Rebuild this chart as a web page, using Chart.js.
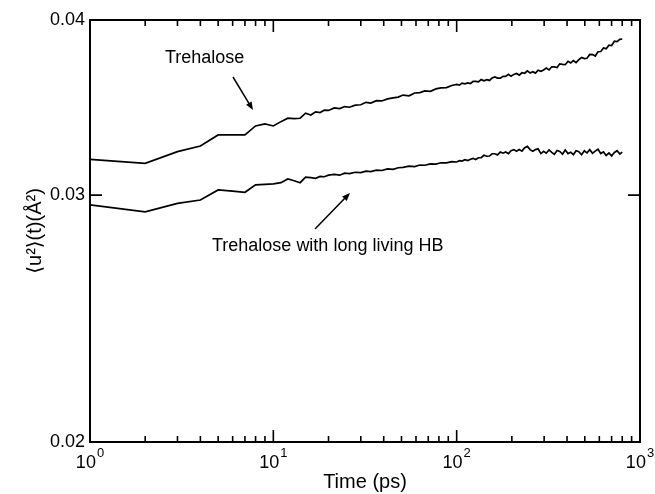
<!DOCTYPE html>
<html>
<head>
<meta charset="utf-8">
<script src="https://cdn.jsdelivr.net/npm/chart.js@4.4.0/dist/chart.umd.min.js"></script>
<style>
  html, body { margin: 0; padding: 0; background: #fff; }
</style>
</head>
<body>
<canvas id="msd-chart" width="655" height="494"></canvas>
<script>
// time (ps) - integer steps early on, denser log steps later
const times = [
  1, 2, 3, 4, 5, 6, 7, 8, 9, 10, 11, 12, 13, 14, 15, 16, 17, 18, 19, 20,
  21.5, 23, 24.5, 26, 28, 30, 32, 34, 36.5, 39, 42, 45, 48, 51, 55, 59, 63, 67, 72, 77, 82, 88, 94,
  100, 103.5, 107, 111, 115, 119, 123, 127, 131.5, 136,
  141, 146, 151, 156, 161.5, 167, 173, 179, 185, 191.5,
  198, 205, 212, 219.5, 227, 235, 243, 251.5, 260, 269,
  278, 288, 298, 308, 319, 330, 341, 353, 365, 378,
  391, 405, 419, 433, 448, 464, 480, 497, 514, 532,
  551, 570, 590, 611, 632, 654, 677, 700, 725, 750,
  776, 800
];

const trehalose = [
  0.03182, 0.03161, 0.03222, 0.03252, 0.03312, 0.03312, 0.03312, 0.03361, 0.03372, 0.03361,
  0.03385, 0.03404, 0.03402, 0.03404, 0.03432, 0.03422, 0.03440, 0.03436, 0.03450, 0.03448,
  0.03462, 0.03458, 0.03470, 0.03466, 0.03478, 0.03480, 0.03494, 0.03490, 0.03504, 0.03502,
  0.03514, 0.03520, 0.03524, 0.03536, 0.03532, 0.03548, 0.03550, 0.03560, 0.03558, 0.03572,
  0.03578, 0.03580, 0.03592,
  0.03598, 0.03594, 0.03606, 0.03602, 0.03607, 0.03604, 0.03617, 0.03616, 0.03613, 0.03627,
  0.03620, 0.03627, 0.03622, 0.03636, 0.03643, 0.03636, 0.03636, 0.03647, 0.03646, 0.03659,
  0.03647, 0.03658, 0.03664, 0.03654, 0.03668, 0.03665, 0.03679, 0.03667, 0.03674, 0.03666,
  0.03683, 0.03677, 0.03685, 0.03696, 0.03685, 0.03704, 0.03704, 0.03700, 0.03722, 0.03719,
  0.03717, 0.03738, 0.03728, 0.03742, 0.03730, 0.03748, 0.03761, 0.03754, 0.03756, 0.03780,
  0.03779, 0.03770, 0.03797, 0.03798, 0.03821, 0.03816, 0.03838, 0.03836, 0.03863, 0.03860,
  0.03875, 0.03877
];

const trehaloseHB = [
  0.02952, 0.02919, 0.02960, 0.02976, 0.03026, 0.03020, 0.03014, 0.03051, 0.03054, 0.03056,
  0.03062, 0.03081, 0.03072, 0.03062, 0.03090, 0.03088, 0.03084, 0.03094, 0.03092, 0.03100,
  0.03104, 0.03100, 0.03110, 0.03108, 0.03115, 0.03113, 0.03121, 0.03118, 0.03126, 0.03124,
  0.03132, 0.03130, 0.03138, 0.03140, 0.03146, 0.03144, 0.03152, 0.03151, 0.03158, 0.03157,
  0.03164, 0.03163, 0.03170,
  0.03168, 0.03175, 0.03173, 0.03180, 0.03175, 0.03182, 0.03187, 0.03181, 0.03190, 0.03190,
  0.03203, 0.03198, 0.03199, 0.03211, 0.03211, 0.03205, 0.03220, 0.03214, 0.03220, 0.03212,
  0.03227, 0.03233, 0.03224, 0.03233, 0.03225, 0.03243, 0.03250, 0.03233, 0.03224, 0.03233,
  0.03237, 0.03212, 0.03224, 0.03214, 0.03231, 0.03218, 0.03208, 0.03228, 0.03223, 0.03209,
  0.03231, 0.03212, 0.03219, 0.03206, 0.03227, 0.03222, 0.03206, 0.03227, 0.03216, 0.03233,
  0.03214, 0.03225, 0.03235, 0.03212, 0.03221, 0.03202, 0.03215, 0.03200, 0.03218, 0.03227,
  0.03210, 0.03220
];

const yTicks = [0.02, 0.03, 0.04];
const xMajor = [1, 10, 100, 1000];
const xExponents = ['0', '1', '2', '3'];
const xMinor = [2, 3, 4, 5, 6, 7, 8, 9, 20, 30, 40, 50, 60, 70, 80, 90, 200, 300, 400, 500, 600, 700, 800, 900];

const FONT = "'Liberation Sans', Arial, Helvetica, 'DejaVu Sans', sans-serif";

function toPoints(values) {
  return times.map((t, i) => ({ x: t, y: values[i] }));
}

function arrow(ctx, x1, y1, x2, y2) {
  const a = Math.atan2(y2 - y1, x2 - x1);
  const len = 8, half = 3.2;
  ctx.beginPath();
  ctx.moveTo(x1, y1);
  ctx.lineTo(x2 - Math.cos(a) * len * 0.8, y2 - Math.sin(a) * len * 0.8);
  ctx.lineWidth = 1.5;
  ctx.stroke();
  ctx.beginPath();
  ctx.moveTo(x2, y2);
  ctx.lineTo(x2 - Math.cos(a) * len - Math.sin(a) * half, y2 - Math.sin(a) * len + Math.cos(a) * half);
  ctx.lineTo(x2 - Math.cos(a) * len + Math.sin(a) * half, y2 - Math.sin(a) * len - Math.cos(a) * half);
  ctx.closePath();
  ctx.fill();
}

// frame, inward ticks, 10^n labels and the two annotations
const framePlugin = {
  id: 'frame',
  afterDraw(chart) {
    const { ctx, chartArea: area } = chart;
    const xs = chart.scales.x, ys = chart.scales.y;
    ctx.save();
    ctx.strokeStyle = '#000';
    ctx.fillStyle = '#000';
    ctx.lineWidth = 2;
    ctx.strokeRect(area.left, area.top, area.right - area.left, area.bottom - area.top);

    ctx.lineWidth = 1.6;
    ctx.beginPath();
    xMajor.forEach(v => {
      const px = xs.getPixelForValue(v);
      ctx.moveTo(px, area.bottom); ctx.lineTo(px, area.bottom - 12);
      ctx.moveTo(px, area.top); ctx.lineTo(px, area.top + 12);
    });
    xMinor.forEach(v => {
      const px = xs.getPixelForValue(v);
      ctx.moveTo(px, area.bottom); ctx.lineTo(px, area.bottom - 6);
      ctx.moveTo(px, area.top); ctx.lineTo(px, area.top + 6);
    });
    yTicks.forEach(v => {
      const py = ys.getPixelForValue(v);
      ctx.moveTo(area.left, py); ctx.lineTo(area.left + 12, py);
      ctx.moveTo(area.right, py); ctx.lineTo(area.right - 12, py);
    });
    ctx.stroke();

    // x tick labels with superscript exponent
    ctx.textBaseline = 'alphabetic';
    ctx.textAlign = 'left';
    xMajor.forEach((v, i) => {
      const px = xs.getPixelForValue(v);
      ctx.font = '18px ' + FONT;
      const w1 = ctx.measureText('10').width;
      ctx.font = '13px ' + FONT;
      const w2 = ctx.measureText(xExponents[i]).width;
      const x0 = px - (w1 + w2 + 1) / 2;
      ctx.font = '18px ' + FONT;
      ctx.fillText('10', x0, area.bottom + 26);
      ctx.font = '13px ' + FONT;
      ctx.fillText(xExponents[i], x0 + w1 + 1, area.bottom + 15);
    });

    // annotations
    ctx.font = '18px ' + FONT;
    ctx.fillText('Trehalose', 165, 63);
    arrow(ctx, 233, 77, 253, 110);
    ctx.fillText('Trehalose with long living HB', 212, 251);
    arrow(ctx, 315, 229, 350, 193);
    ctx.restore();
  }
};

Chart.defaults.color = '#000';
Chart.defaults.font.family = FONT;

new Chart(document.getElementById('msd-chart').getContext('2d'), {
  type: 'line',
  data: {
    datasets: [
      {
        label: 'Trehalose',
        data: toPoints(trehalose),
        borderColor: '#000',
        borderWidth: 1.7,
        pointRadius: 0,
        fill: false,
        tension: 0
      },
      {
        label: 'Trehalose with long living HB',
        data: toPoints(trehaloseHB),
        borderColor: '#000',
        borderWidth: 1.7,
        pointRadius: 0,
        fill: false,
        tension: 0
      }
    ]
  },
  options: {
    responsive: false,
    animation: false,
    devicePixelRatio: 1,
    layout: { padding: { top: 20, right: 15, bottom: 0, left: 0 } },
    plugins: { legend: { display: false }, tooltip: { enabled: false } },
    scales: {
      x: {
        type: 'logarithmic',
        min: 1,
        max: 1000,
        grid: { display: false, drawTicks: false },
        border: { display: false },
        ticks: { display: false },
        afterFit: scale => { scale.height = 52; },
        title: {
          display: true,
          text: 'Time (ps)',
          font: { size: 20, lineHeight: 1.2 },
          padding: { top: 0, bottom: 0 }
        }
      },
      y: {
        type: 'logarithmic',
        min: 0.02,
        max: 0.04,
        grid: { display: false, drawTicks: false },
        border: { display: false },
        afterBuildTicks: scale => { scale.ticks = yTicks.map(v => ({ value: v })); },
        afterFit: scale => { scale.width = 90; },
        ticks: {
          font: { size: 18 },
          padding: 5,
          callback: v => v.toFixed(2)
        },
        title: {
          display: true,
          text: '\u27E8u\u00B2\u27E9(t)(\u00C5\u00B2)',
          font: { size: 20, lineHeight: 1.2 },
          padding: { top: 23, bottom: 0 }
        }
      }
    }
  },
  plugins: [framePlugin]
});
</script>
</body>
</html>
